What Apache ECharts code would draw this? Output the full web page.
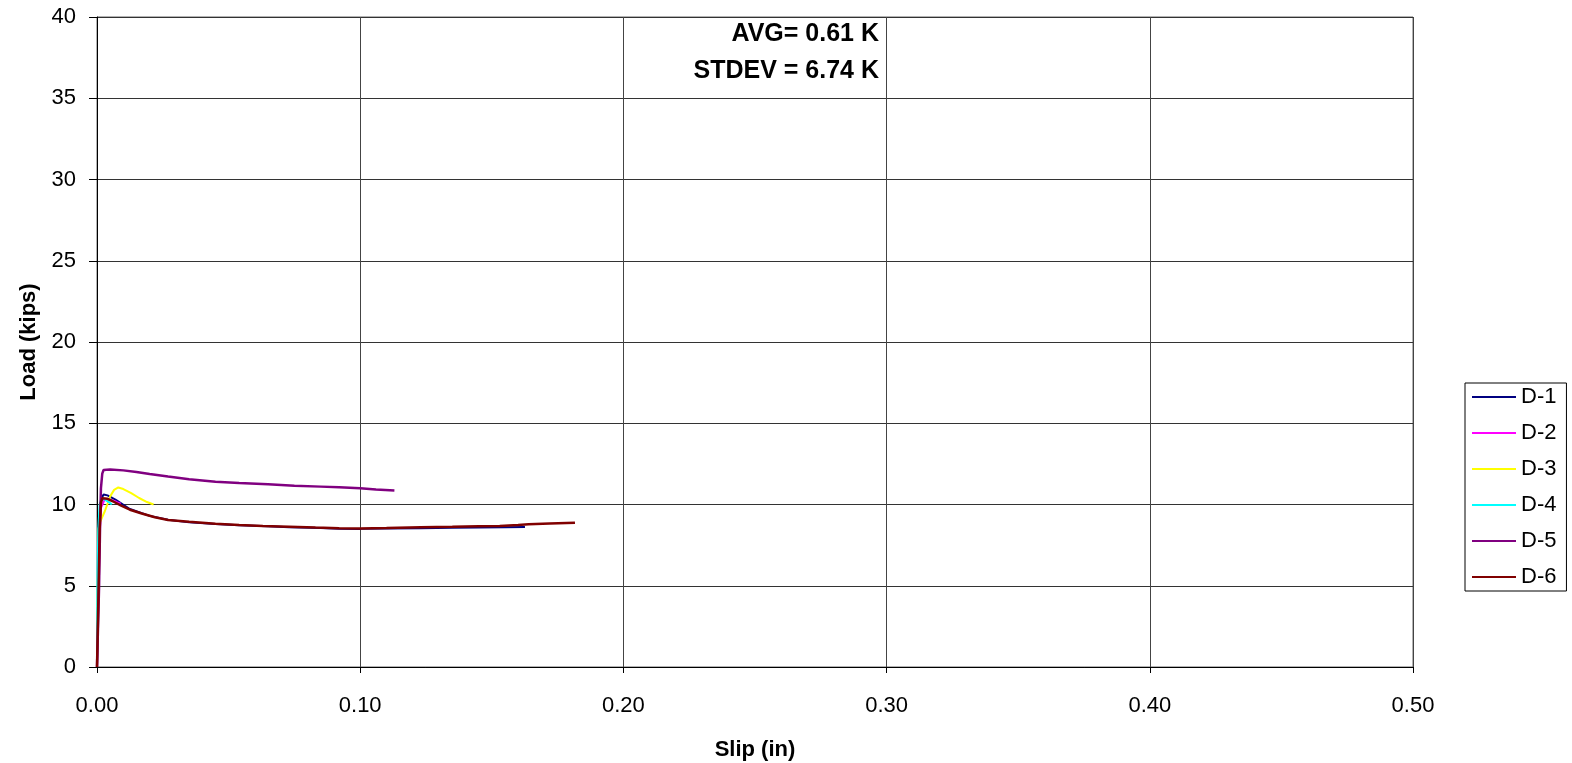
<!DOCTYPE html>
<html>
<head>
<meta charset="utf-8">
<script src="https://cdn.jsdelivr.net/npm/echarts@6/dist/echarts.min.js"></script>
<style>
  html, body { margin: 0; padding: 0; background: #fff; }
  #chart { width: 1572px; height: 763px; }
</style>
</head>
<body>
<div id="chart"></div>
<script>
// Load-slip curves for specimens D-1 .. D-6, [slip (in), load (kips)]
const seriesNames = ['D-1', 'D-2', 'D-3', 'D-4', 'D-5', 'D-6'];
const seriesColors = ['#000080', '#FF00FF', '#FFFF00', '#00FFFF', '#800080', '#800000'];

const d1 = [[0,0],[0.0003,3.2],[0.0008,8.1],[0.0015,10.3],[0.0025,10.62],[0.004,10.56],[0.007,10.3],
  [0.0125,9.72],[0.02,9.3],[0.027,9.06],[0.035,8.9],[0.045,8.8],[0.054,8.72],[0.065,8.66],[0.073,8.6],
  [0.085,8.55],[0.092,8.51],[0.1,8.5],[0.11,8.52],[0.123,8.54],[0.135,8.57],[0.145,8.58],[0.155,8.6],[0.1626,8.62]];
const d2 = [[0,0],[0.0005,4],[0.001,8],[0.0015,9.8],[0.003,10.35],[0.005,10.3],[0.0075,10.15],[0.009,10.05]];
const d3 = [[0,0],[0.0002,3],[0.0004,6.5],[0.0006,8.5],[0.001,8.85],[0.003,9.6],[0.005,10.5],[0.0065,10.9],
  [0.0081,11.05],[0.01,10.95],[0.013,10.7],[0.016,10.4],[0.019,10.15],[0.0215,10.0]];
const d4 = [[0,0],[0.0001,3],[0.0002,5.8],[0.0005,8.5],[0.001,10.0],[0.0018,10.35],[0.003,10.3],[0.0045,10.15],[0.0056,10.0]];
const d5 = [[0,0],[0.0008,5],[0.0012,9],[0.0015,11.0],[0.002,11.9],[0.0025,12.12],[0.005,12.15],[0.01,12.1],
  [0.015,12.0],[0.02,11.88],[0.027,11.72],[0.035,11.55],[0.045,11.4],[0.054,11.32],[0.065,11.25],[0.075,11.15],
  [0.085,11.1],[0.092,11.06],[0.1,11.0],[0.106,10.92],[0.113,10.86]];
const d6 = [[0,0],[0.0005,4],[0.001,8.5],[0.0015,10.1],[0.002,10.38],[0.004,10.35],[0.006,10.2],[0.009,9.95],
  [0.0125,9.68],[0.017,9.45],[0.022,9.22],[0.027,9.05],[0.035,8.94],[0.045,8.82],[0.054,8.74],[0.063,8.68],
  [0.073,8.63],[0.083,8.58],[0.092,8.54],[0.1,8.53],[0.11,8.55],[0.123,8.6],[0.135,8.63],[0.145,8.66],
  [0.153,8.68],[0.16,8.74],[0.164,8.78],[0.172,8.83],[0.1816,8.88]];
const seriesData = [d1, d2, d3, d4, d5, d6];

const annotationLines = ['AVG= 0.61 K', 'STDEV = 6.74 K'];

const FONT = 'Liberation Sans, Arial, sans-serif';
const chart = echarts.init(document.getElementById('chart'));

chart.setOption({
  animation: false,
  backgroundColor: '#fff',
  grid: {
    left: 97, right: 159, top: 17, bottom: 96, show: true, borderColor: '#666', borderWidth: 1,
    containLabel: false, outerBoundsMode: 'none'
  },
  xAxis: {
    type: 'value', min: 0, max: 0.5, interval: 0.1,
    name: 'Slip (in)', nameLocation: 'middle', nameGap: 72, nameMoveOverlap: false,
    nameTextStyle: { fontFamily: FONT, fontSize: 22, fontWeight: 'bold', color: '#000', verticalAlign: 'top' },
    axisLine: { show: true, onZero: false, lineStyle: { color: '#000', width: 1 } },
    axisTick: { show: true, length: 6, lineStyle: { color: '#000' } },
    axisLabel: { fontFamily: FONT, fontSize: 22, color: '#000', margin: 28, formatter: v => v.toFixed(2) },
    splitLine: { show: true, lineStyle: { color: '#444', width: 1 } }
  },
  yAxis: {
    type: 'value', min: 0, max: 40, interval: 5,
    name: 'Load (kips)', nameLocation: 'middle', nameGap: 57, nameRotate: 90,
    nameTextStyle: { fontFamily: FONT, fontSize: 22, fontWeight: 'bold', color: '#000' },
    axisLine: { show: true, lineStyle: { color: '#000', width: 1 } },
    axisTick: { show: true, length: 8, lineStyle: { color: '#000' } },
    axisLabel: { fontFamily: FONT, fontSize: 22, color: '#000', margin: 21 },
    splitLine: { show: true, lineStyle: { color: '#333', width: 1 } }
  },
  legend: {
    orient: 'vertical', left: 1465, top: 383,
    backgroundColor: '#fff', borderColor: '#000', borderWidth: 1,
    padding: [3, 10, 3, 7], itemGap: 14,
    itemWidth: 44, itemHeight: 2, icon: 'rect',
    textStyle: { fontFamily: FONT, fontSize: 22, color: '#000', lineHeight: 22 },
    data: seriesNames
  },
  graphic: [{
    type: 'text', right: 1572 - 879, top: 16,
    style: {
      text: annotationLines.join('\n'), textAlign: 'right',
      fontFamily: FONT, fontSize: 25, fontWeight: 'bold', fill: '#000', lineHeight: 37
    }
  }],
  series: seriesNames.map((name, i) => ({
    name, type: 'line', data: seriesData[i],
    showSymbol: false, symbol: 'none', smooth: false,
    color: seriesColors[i],
    lineStyle: { color: seriesColors[i], width: i === 5 || i === 4 ? 2.5 : 2 },
    itemStyle: { color: seriesColors[i] },
    z: 2 + i
  }))
});
</script>
</body>
</html>
